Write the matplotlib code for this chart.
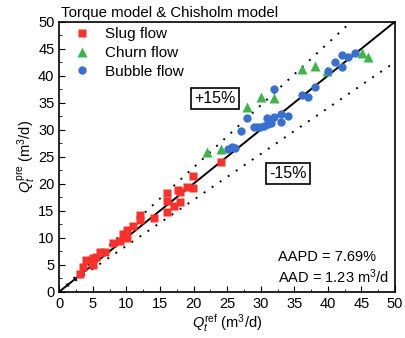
import matplotlib.pyplot as plt
import numpy as np

plt.rcParams['font.family'] = ['Liberation Sans', 'DejaVu Sans']
plt.rcParams['mathtext.fontset'] = 'custom'
plt.rcParams['mathtext.rm'] = 'Liberation Sans'
plt.rcParams['mathtext.it'] = 'Liberation Sans:italic'

# Slug flow
slug_ref = [3.08, 3.49, 3.98, 4.97, 4.97, 5.47, 6.06, 6.81, 7.95, 9.04, 9.44, 10.04, 10.04,
            10.93, 12.02, 12.02, 14.1, 16.0, 16.0, 16.0, 17.08, 17.72, 17.98, 17.98, 18.98,
            19.96, 19.96, 24.04]
slug_pre = [3.28, 4.52, 5.87, 6.24, 4.94, 6.48, 7.41, 7.41, 9.07, 9.39, 10.69, 11.43, 9.89,
            12.17, 14.2, 13.28, 13.7, 18.33, 16.85, 14.81, 15.87, 18.83, 16.67, 18.52, 19.33,
            21.43, 19.15, 23.96]

# Churn flow
churn_ref = [22.04, 24.04, 28.0, 30.0, 31.98, 36.1, 38.08, 39.8, 45.04, 46.02]
churn_pre = [25.93, 26.37, 34.15, 36.11, 35.81, 41.19, 41.8, 40.9, 44.26, 43.4]

# Bubble flow
bubble_ref = [25.17, 25.68, 26.17, 27.02, 28.0, 29.0, 29.45, 29.9, 30.49, 31.08, 31.52,
              30.98, 31.98, 32.98, 32.98, 34.1, 31.98, 36.1, 37.09, 38.08, 40.07, 41.06,
              42.06, 42.06, 43.04, 44.04]
bubble_pre = [26.37, 26.74, 26.6, 29.81, 32.11, 30.56, 30.56, 30.56, 30.69, 30.96, 31.24,
              32.11, 32.3, 32.9, 31.48, 32.54, 37.48, 36.43, 36.11, 37.85, 40.93, 42.59,
              43.83, 41.56, 43.37, 44.1]

fig = plt.figure(figsize=(4.06, 3.38), dpi=100)
ax = fig.add_axes([0.146, 0.137, 0.827, 0.799])

line = np.array([0, 50])
ax.plot(line, line, color='black', lw=1.4, zorder=2)
ax.plot(line, 1.15 * line, color='black', lw=1.4, linestyle=(0, (1, 4)), zorder=2)
ax.plot(line, 0.85 * line, color='black', lw=1.4, linestyle=(0, (1, 4)), zorder=2)

ax.plot(slug_ref, slug_pre, 's', color='#f8312a', ms=5.5, mec='none', label='Slug flow', zorder=3)
ax.plot(churn_ref, churn_pre, '^', color='#3cb64a', ms=6.5, mec='none', label='Churn flow', zorder=3)
ax.plot(bubble_ref, bubble_pre, 'o', color='#3a6fd2', ms=6, mec='none', label='Bubble flow', zorder=3)

ax.set_xlim(0, 50)
ax.set_ylim(0, 50)
ax.set_xticks(np.arange(0, 51, 5))
ax.set_yticks(np.arange(0, 51, 5))
ax.set_xticks(np.arange(0, 51, 2.5), minor=True)
ax.set_yticks(np.arange(0, 51, 2.5), minor=True)
ax.tick_params(which='both', direction='in', labelsize=10.5)
ax.tick_params(which='major', length=4)
ax.tick_params(which='minor', length=2)

ax.set_xlabel(r'$Q_t^{\mathrm{ref}}$ (m$^3$/d)', fontsize=10.5, labelpad=1)
ax.set_ylabel(r'$Q_t^{\mathrm{pre}}$ (m$^3$/d)', fontsize=10.5, labelpad=1)
ax.set_title('Torque model & Chisholm model', loc='left', fontsize=10.8, pad=3, x=0.005)

ax.legend(loc='upper left', frameon=False, fontsize=11, handletextpad=0.5,
          borderaxespad=0.3, labelspacing=0.3, bbox_to_anchor=(-0.01, 1.018))

box = dict(boxstyle='square,pad=0.2', fc='white', ec='black', lw=1.2)
ax.text(23.2, 35.8, '+15%', fontsize=11.5, ha='center', va='center', bbox=box)
ax.text(34.0, 21.9, '-15%', fontsize=11.5, ha='center', va='center', bbox=box)

ax.text(32.6, 6.4, 'AAPD = 7.69%', fontsize=10.5, ha='left', va='center')
ax.text(32.6, 2.7, 'AAD = 1.23 m$^3$/d', fontsize=10.5, ha='left', va='center')

for s in ax.spines.values():
    s.set_linewidth(1.2)

fig.savefig('out.png', dpi=100)
